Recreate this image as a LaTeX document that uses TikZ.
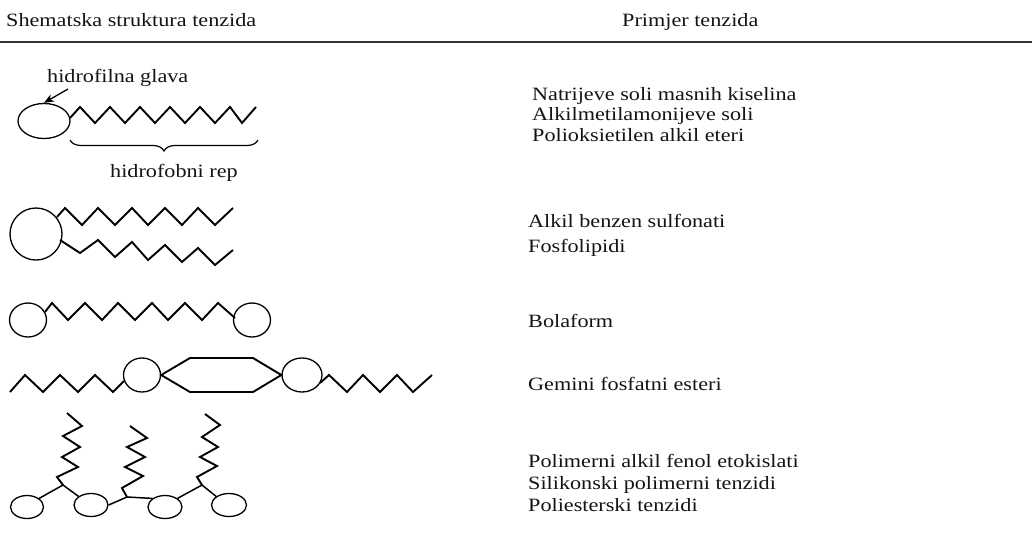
\documentclass[tikz,border=0pt]{standalone}
\usepackage{fontspec}
\setmainfont{Liberation Serif}
\usepackage{graphicx}
\usetikzlibrary{shapes.geometric,arrows.meta,decorations.pathreplacing}
\newcommand\wide[1]{\scalebox{1.18}[1]{#1}}
\tikzset{
  txt/.style={anchor=base west, inner sep=0pt, font=\fontsize{18.8}{20}\selectfont, text=black!92},
  zz/.style={line width=1.9pt, line join=miter, miter limit=10},
  head/.style={draw, ellipse, line width=1.3pt, inner sep=0pt},
  bb/.style={line width=1.5pt},
}
\begin{document}
\begin{tikzpicture}[x=1pt,y=-1pt]
\useasboundingbox[fill=white] (0,0) rectangle (1032,544);
% header
\node[txt] (hl) at (6,26) {\wide{Shematska struktura tenzida}};
\node[txt] (hr) at (622,26) {\wide{Primjer tenzida}};
\coordinate (rl) at (0,42);
\coordinate (rr) at (1032,42);
\draw[line width=1.8pt, black!80] (rl) -- (rr);

% row 1
\node[head, minimum width=52pt, minimum height=35pt] (h1) at (44,121) {};
\node[txt] (lab1) at (47,82) {\wide{hidrofilna glava}};
\coordinate (ar) at (68,89);
\draw[line width=1.3pt, -{Stealth[length=10pt,width=8pt]}] (ar) -- (h1.north);
\draw[zz] (70,118) -- (80,107) -- (95,123) -- (110,107) -- (125,123) -- (140,107) -- (155,123)
  -- (170,107) -- (185,123) -- (200,107) -- (215,123) -- (230,107) -- (242,123) -- (256,107);
\coordinate (b1) at (70,140);
\coordinate (b2) at (258,140);
\draw[line width=1.2pt, decorate, decoration={brace, amplitude=11pt, mirror}] (b1) -- (b2);
\node[txt] (lab2) at (110,177) {\wide{hidrofobni rep}};
\node[txt] (t11) at (532,100) {\wide{Natrijeve soli masnih kiselina}};
\node[txt] (t12) at (532,120) {\wide{Alkilmetilamonijeve soli}};
\node[txt] (t13) at (532,141) {\wide{Polioksietilen alkil eteri}};

% row 2
\node[head, minimum width=52pt, minimum height=52pt] (h2) at (36,234) {};
\draw[zz] (57,217) -- (65,208) -- (82,225) -- (98,208) -- (115,225) -- (132,208) -- (148,225)
  -- (165,208) -- (182,225) -- (198,208) -- (215,225) -- (233,208);
\draw[zz] (60,240) -- (80,253) -- (98,240) -- (115,257) -- (132,242) -- (148,260) -- (165,245)
  -- (182,262) -- (198,248) -- (215,265) -- (233,250);
\node[txt] (t21) at (528,227) {\wide{Alkil benzen sulfonati}};
\node[txt] (t22) at (528,252) {\wide{Fosfolipidi}};

% row 3 bolaform
\node[head, minimum width=37pt, minimum height=34pt] (h3a) at (28,320) {};
\node[head, minimum width=37pt, minimum height=34pt] (h3b) at (252,320) {};
\draw[zz] (45,312) -- (52,303) -- (68,320) -- (85,303) -- (102,320) -- (118,303) -- (135,320)
  -- (152,303) -- (168,320) -- (185,303) -- (202,320) -- (218,303) -- (235,318);
\node[txt] (t31) at (528,327) {\wide{Bolaform}};

% row 4 gemini
\node[head, minimum width=37pt, minimum height=34pt] (h4a) at (142,375) {};
\node[head, minimum width=40pt, minimum height=34pt] (h4b) at (302,375) {};
\draw[zz] (10,392) -- (25,375) -- (43,392) -- (60,375) -- (78,392) -- (95,375) -- (113,392) -- (124,381);
\draw[zz] (h4a.east) -- (190,358) -- (253,358) -- (h4b.west) -- (253,392) -- (190,392) -- cycle;
\draw[zz] (320,383) -- (329,375) -- (347,392) -- (363,375) -- (380,392) -- (397,375) -- (413,392) -- (432,375);
\node[txt] (t41) at (528,390) {\wide{Gemini fosfatni esteri}};

% row 5 polymer
\node[head, minimum width=33pt, minimum height=23pt] (e1) at (27,507) {};
\node[head, minimum width=34pt, minimum height=23pt] (e2) at (91,505) {};
\node[head, minimum width=34pt, minimum height=23pt] (e3) at (165,507) {};
\node[head, minimum width=35pt, minimum height=23pt] (e4) at (229,505) {};
\coordinate (j1) at (63,485);
\coordinate (j2) at (127,497);
\coordinate (j3) at (202,485);
\draw[bb] (e1.north east) -- (j1) -- (e2.north west);
\draw[bb] (e2.east) -- (j2) -- (e3.north west);
\draw[bb] (e3.north east) -- (j3) -- (e4.north west);
\draw[zz] (j1) -- (57,477) -- (78,467) -- (62,457) -- (80,447) -- (63,436) -- (82,426) -- (67,413);
\draw[zz] (j2) -- (122,488) -- (143,476) -- (125,467) -- (145,457) -- (127,447) -- (147,438) -- (130,426);
\draw[zz] (j3) -- (197,477) -- (217,466) -- (200,457) -- (218,447) -- (202,437) -- (220,425) -- (205,414);
\node[txt] (t51) at (528,467) {\wide{Polimerni alkil fenol etokislati}};
\node[txt] (t52) at (528,489) {\wide{Silikonski polimerni tenzidi}};
\node[txt] (t53) at (528,511) {\wide{Poliesterski tenzidi}};
\end{tikzpicture}
\end{document}
